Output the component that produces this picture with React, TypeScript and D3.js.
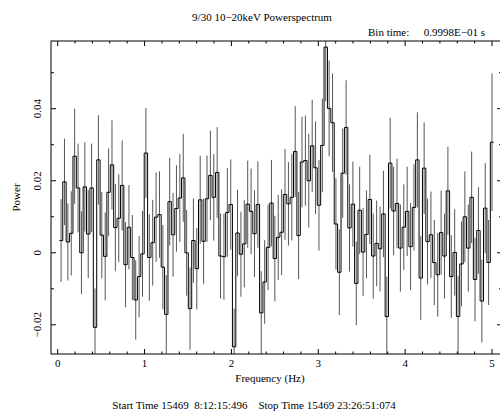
import React from "react";
import * as d3 from "d3";

// power spectrum, 128 bins from 5/128 Hz to 5 Hz (bin time ~0.1 s)
const nBins = 128;
const binWidth = 5 / nBins;

const power = [
  0.0034, 0.0197, 0.003, 0.0054, 0.0268, 0.018, 0.0, 0.0183, 0.0052, 0.018,
  -0.0207, 0.0258, 0.0049, -0.001, 0.0168, 0.0244, 0.007, 0.0096, 0.0187, -0.0033,
  0.0071, -0.0013, -0.0131, -0.0066, -0.0003, 0.0277, -0.0013, 0.0028, 0.0099, 0.0106,
  -0.004, -0.0171, 0.0142, 0.005, 0.0123, 0.0152, 0.0208, 0.0, -0.0155, 0.0034,
  -0.0044, 0.0147, 0.0032, 0.015, 0.0215, 0.0154, 0.0223, -0.0009, -0.0011, 0.0112,
  0.0134, -0.0261, 0.0055, -0.0004, 0.0025, 0.0135, 0.0115, 0.0053, 0.0134, -0.0167,
  -0.0081, 0.0015, 0.0138, -0.0016, 0.0043, 0.0057, 0.0162, 0.0136, 0.0154, 0.0281,
  0.0048, 0.0252, 0.0256, 0.02, 0.0297, 0.0236, 0.0132, 0.0298, 0.0571, 0.0401,
  0.0361, 0.008, -0.0054, 0.0221, 0.0348, 0.0069, 0.0135, -0.0085, 0.0118, 0.0002,
  0.0051, 0.0148, -0.0009, 0.0026, 0.0011, 0.0108, -0.0177, 0.0249, 0.0116, 0.0137,
  0.0013, 0.0071, 0.0115, 0.0017, 0.0126, 0.0258, -0.007, 0.0235, 0.0031, 0.005,
  -0.0027, -0.0061, 0.0056, -0.0009, 0.0172, -0.0066, 0.0001, -0.0177, -0.0031, 0.01,
  0.0013, 0.0154, -0.0074, 0.0062, -0.0134, 0.0124, -0.0027, 0.0307,
];

const powerErr = [
  0.0115, 0.012, 0.0107, 0.0117, 0.0132, 0.0123, 0.0115, 0.0124, 0.0122, 0.0123,
  0.0108, 0.0124, 0.012, 0.0122, 0.0122, 0.0124, 0.0121, 0.0122, 0.0125, 0.0118,
  0.0117, 0.0118, 0.011, 0.0113, 0.0119, 0.0125, 0.012, 0.0119, 0.0124, 0.012,
  0.0117, 0.0109, 0.0122, 0.0116, 0.012, 0.0122, 0.0122, 0.0119, 0.0114, 0.0117,
  0.0113, 0.0122, 0.0118, 0.012, 0.0124, 0.012, 0.0126, 0.0118, 0.0119, 0.0123,
  0.0125, 0.0106, 0.012, 0.0118, 0.0121, 0.0121, 0.0119, 0.012, 0.012, 0.0116,
  0.0116, 0.0119, 0.012, 0.0119, 0.0118, 0.0119, 0.0126, 0.0116, 0.012, 0.0126,
  0.0121, 0.0126, 0.0125, 0.013, 0.0128, 0.0129, 0.0126, 0.013, 0.015, 0.0133,
  0.0137, 0.0127, 0.0119, 0.0124, 0.0131, 0.0121, 0.0118, 0.0116, 0.0121, 0.0122,
  0.0122, 0.0124, 0.0118, 0.0119, 0.0118, 0.012, 0.0111, 0.0126, 0.0123, 0.0124,
  0.0121, 0.0119, 0.0124, 0.0121, 0.012, 0.0132, 0.0116, 0.0127, 0.0119, 0.012,
  0.0118, 0.0116, 0.0117, 0.0118, 0.0122, 0.0115, 0.012, 0.0112, 0.0118, 0.0126,
  0.0121, 0.0127, 0.0116, 0.012, 0.0115, 0.0125, 0.0118, 0.0191,
];

const xTicks = [0, 1, 2, 3, 4, 5];
const yTicks = [-0.02, 0, 0.02, 0.04];
const yTickLabels = ["\u22120.02", "0", "0.02", "0.04"];

const W = 500;
const H = 412;
const left = 51;
const right = 502;
const top = 41;
const bottom = 354;
const font = "'Liberation Serif', 'Times New Roman', serif";

export default function App() {
  const x = d3.scaleLinear().domain([-0.077, 5.115]).range([left, right]);
  const y = d3.scaleLinear().domain([-0.0281, 0.0588]).range([bottom, top]);

  const bins = power.map((p, i) => ({ f: (i + 1) * binWidth, p, e: powerErr[i] }));

  const pts: [number, number][] = [
    [bins[0].f - binWidth / 2, bins[0].p],
    ...bins.map((b) => [b.f, b.p] as [number, number]),
    [bins[nBins - 1].f + binWidth / 2, bins[nBins - 1].p],
  ];
  const step = d3
    .line<[number, number]>()
    .x((d) => x(d[0]))
    .y((d) => y(d[1]))
    .curve(d3.curveStep)(pts);

  const xMinor = d3.range(0, 5.01, 0.2).filter((v) => Math.abs(v - Math.round(v)) > 1e-6);
  const yMinor = d3.range(-0.02, 0.051, 0.01).filter((v) => Math.abs(v * 50 - Math.round(v * 50)) > 1e-6);

  return (
    <svg width={W} height={H} style={{ position: "absolute", left: 0, top: 0, background: "#fff" }}>
      <defs>
        <clipPath id="plotclip">
          <rect x={left} y={top} width={right - left} height={bottom - top} />
        </clipPath>
      </defs>

      <g clipPath="url(#plotclip)">
        {bins.map((b, i) => (
          <line
            key={i}
            x1={x(b.f)}
            x2={x(b.f)}
            y1={y(b.p - b.e)}
            y2={y(b.p + b.e)}
            stroke="#555"
            strokeWidth={1}
          />
        ))}
        <path d={step ?? ""} fill="none" stroke="#000" strokeWidth={1} />
      </g>

      {/* frame */}
      <rect x={left} y={top} width={right - left} height={bottom - top} fill="none" stroke="#000" strokeWidth={1} />

      {/* x ticks bottom and top */}
      {xTicks.map((t) => (
        <g key={"xt" + t}>
          <line x1={x(t)} x2={x(t)} y1={bottom} y2={bottom - 5} stroke="#000" />
          <line x1={x(t)} x2={x(t)} y1={top} y2={top + 5} stroke="#000" />
          <text x={x(t)} y={367} fontFamily={font} fontSize={11} textAnchor="middle">
            {t}
          </text>
        </g>
      ))}
      {xMinor.map((t) => (
        <g key={"xm" + t}>
          <line x1={x(t)} x2={x(t)} y1={bottom} y2={bottom - 2.5} stroke="#000" />
          <line x1={x(t)} x2={x(t)} y1={top} y2={top + 2.5} stroke="#000" />
        </g>
      ))}

      {/* y ticks left and right */}
      {yTicks.map((t, i) => (
        <g key={"yt" + t}>
          <line x1={left} x2={left + 5} y1={y(t)} y2={y(t)} stroke="#000" />
          <line x1={right} x2={right - 5} y1={y(t)} y2={y(t)} stroke="#000" />
          <text
            transform={`translate(41,${y(t)}) rotate(-90)`}
            fontFamily={font}
            fontSize={11}
            textAnchor="middle"
          >
            {yTickLabels[i]}
          </text>
        </g>
      ))}
      {yMinor.map((t) => (
        <g key={"ym" + t}>
          <line x1={left} x2={left + 3} y1={y(t)} y2={y(t)} stroke="#000" />
          <line x1={right} x2={right - 3} y1={y(t)} y2={y(t)} stroke="#000" />
        </g>
      ))}

      <text x={262} y={21} fontFamily={font} fontSize={11} textAnchor="middle">
        9/30 10{"\u2212"}20keV Powerspectrum
      </text>
      <text x={368} y={36} fontFamily={font} fontSize={11}>
        Bin time:
      </text>
      <text x={485} y={36} fontFamily={font} fontSize={11} textAnchor="end">
        {"0.9998E\u221201 s"}
      </text>
      <text transform={`translate(20,${(top + bottom) / 2}) rotate(-90)`} fontFamily={font} fontSize={11} textAnchor="middle">
        Power
      </text>
      <text x={270} y={382} fontFamily={font} fontSize={11} textAnchor="middle">
        Frequency (Hz)
      </text>
      <text x={254} y={409} fontFamily={font} fontSize={11} textAnchor="middle" style={{ whiteSpace: "pre" }}>
        {"Start Time 15469  8:12:15:496    Stop Time 15469 23:26:51:074"}
      </text>
    </svg>
  );
}
